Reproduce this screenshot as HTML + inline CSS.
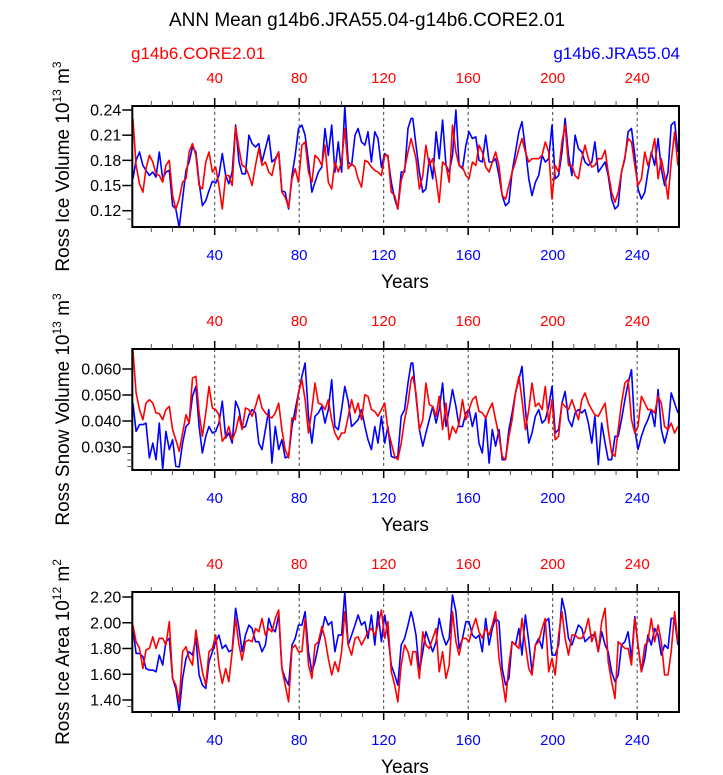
<!DOCTYPE html>
<html><head><meta charset="utf-8"><style>
body{margin:0;background:#fff;}
svg{display:block;font-family:"Liberation Sans",sans-serif;}
</style></head><body>
<svg id="chart" width="723" height="775">
<text x="367" y="26" font-size="19" text-anchor="middle">ANN Mean g14b6.JRA55.04-g14b6.CORE2.01</text>
<text x="131" y="59" font-size="17" fill="#f00">g14b6.CORE2.01</text>
<text x="680" y="59" font-size="17" fill="#00f" text-anchor="end">g14b6.JRA55.04</text>
</svg>
<script>
const years=[1.3,2.8,4.4,6.0,7.5,9.1,10.7,12.2,13.8,15.4,16.9,18.5,20.1,21.6,23.2,24.8,26.4,27.9,29.5,31.1,32.6,34.2,35.8,37.3,38.9,40.5,42.0,43.6,45.2,46.7,48.3,49.9,51.5,53.0,54.6,56.2,57.7,59.3,60.9,62.4,64.0,65.6,67.1,68.7,70.3,71.8,73.4,75.0,76.6,78.1,79.7,81.3,82.8,84.4,86.0,87.5,89.1,90.7,92.2,93.8,95.4,96.9,98.5,100.1,101.6,103.2,104.8,106.4,107.9,109.5,111.1,112.6,114.2,115.8,117.3,118.9,120.5,122.0,123.6,125.2,126.7,128.3,129.9,131.5,133.0,
133.8,135.3,136.9,138.5,140.0,141.6,143.2,144.8,146.3,147.9,149.5,151.0,152.6,154.2,155.7,157.3,158.9,160.4,162.0,163.6,165.1,166.7,168.3,169.9,171.4,173.0,174.6,176.1,177.7,179.3,180.8,182.4,184.0,185.5,187.1,188.7,190.2,191.8,193.4,195.0,196.5,198.1,199.7,201.2,202.8,204.4,205.9,207.5,209.1,210.6,212.2,213.8,215.3,216.9,218.5,220.0,221.6,223.2,224.8,226.3,227.9,229.5,231.0,232.6,234.2,235.7,237.3,238.9,240.4,242.0,243.6,245.1,246.7,248.3,249.9,251.4,253.0,254.6,256.1,257.7,259.3];
const iceVolJRA=[.158,.180,.190,.174,.168,.162,.166,.160,.190,.158,.166,.168,.126,.122,.100,.134,.168,.178,.196,.190,.154,.126,.132,.144,.155,.153,.162,.188,.162,.152,.166,.222,.178,.164,.164,.210,.200,.196,.200,.178,.194,.210,.178,.182,.190,.144,.142,.122,.162,.186,.218,.222,.210,.178,.142,.154,.166,.172,.218,.186,.222,.166,.202,.166,.244,.178,.174,.210,.218,.202,.198,.214,.178,.214,.206,.172,.188,.184,.154,.134,.122,.166,.166,.218,.230,
.230,.198,.166,.142,.146,.182,.158,.214,.182,.228,.174,.166,.186,.240,.174,.170,.198,.214,.206,.208,.180,.178,.210,.178,.178,.182,.162,.138,.126,.130,.166,.190,.214,.226,.194,.158,.138,.154,.162,.186,.178,.182,.222,.158,.162,.190,.230,.186,.162,.210,.194,.190,.178,.174,.178,.202,.166,.172,.178,.162,.134,.122,.126,.166,.182,.214,.218,.186,.146,.134,.142,.166,.190,.174,.206,.170,.150,.166,.222,.226,.190];
const iceVolCORE=[.230,.174,.152,.142,.170,.186,.178,.164,.162,.154,.174,.180,.138,.122,.134,.154,.158,.190,.200,.186,.150,.146,.178,.190,.166,.172,.150,.122,.162,.162,.150,.220,.194,.174,.172,.162,.150,.174,.194,.174,.178,.166,.162,.180,.190,.142,.136,.124,.158,.170,.154,.198,.202,.166,.154,.186,.182,.174,.198,.154,.146,.178,.166,.178,.218,.170,.176,.172,.158,.148,.180,.178,.172,.168,.166,.162,.186,.186,.142,.138,.122,.156,.170,.190,.206,
.198,.182,.146,.162,.198,.174,.182,.158,.130,.178,.174,.154,.222,.190,.174,.172,.162,.158,.178,.174,.198,.190,.172,.166,.178,.190,.174,.138,.134,.150,.166,.178,.194,.206,.190,.178,.182,.182,.182,.186,.202,.190,.134,.174,.166,.202,.222,.174,.174,.162,.158,.182,.198,.182,.172,.174,.182,.182,.192,.166,.142,.130,.142,.166,.184,.206,.202,.174,.150,.158,.190,.174,.186,.206,.158,.182,.162,.134,.178,.214,.174];
const snowJRA=[.0469,.0360,.0386,.0386,.0392,.0258,.0315,.0251,.0392,.0213,.0360,.0290,.0328,.0226,.0223,.0315,.0379,.0392,.0495,.0533,.0379,.0277,.0341,.0379,.0354,.0360,.0392,.0476,.0335,.0354,.0315,.0476,.0444,.0373,.0379,.0424,.0444,.0431,.0315,.0290,.0367,.0444,.0238,.0379,.0290,.0328,.0258,.0264,.0379,.0444,.0508,.0572,.0623,.0418,.0315,.0418,.0431,.0456,.0392,.0444,.0559,.0379,.0367,.0444,.0533,.0476,.0379,.0392,.0405,.0444,.0379,.0328,.0290,.0379,.0315,.0418,.0315,.0379,.0264,.0258,.0264,.0418,.0444,.0546,.0623,
.0623,.0495,.0367,.0303,.0354,.0405,.0456,.0392,.0444,.0546,.0379,.0444,.0521,.0456,.0379,.0379,.0431,.0444,.0379,.0431,.0315,.0277,.0418,.0238,.0367,.0303,.0367,.0251,.0251,.0367,.0431,.0508,.0559,.0610,.0444,.0315,.0354,.0418,.0444,.0392,.0405,.0456,.0533,.0354,.0367,.0469,.0514,.0405,.0379,.0431,.0444,.0431,.0444,.0392,.0315,.0418,.0232,.0392,.0315,.0251,.0251,.0341,.0341,.0405,.0482,.0546,.0597,.0367,.0290,.0341,.0379,.0405,.0444,.0379,.0521,.0367,.0315,.0367,.0508,.0469,.0431];
const snowCORE=[.0674,.0508,.0444,.0405,.0469,.0482,.0469,.0431,.0428,.0405,.0444,.0456,.0367,.0328,.0283,.0354,.0424,.0392,.0565,.0572,.0431,.0341,.0431,.0533,.0450,.0444,.0424,.0322,.0341,.0379,.0328,.0360,.0418,.0367,.0450,.0444,.0418,.0456,.0501,.0450,.0431,.0418,.0412,.0431,.0469,.0367,.0290,.0258,.0412,.0405,.0508,.0559,.0482,.0354,.0444,.0546,.0469,.0463,.0444,.0482,.0405,.0354,.0328,.0354,.0354,.0418,.0482,.0431,.0469,.0405,.0501,.0495,.0444,.0437,.0418,.0444,.0469,.0367,.0315,.0264,.0251,.0315,.0405,.0469,.0559,
.0572,.0508,.0367,.0405,.0546,.0463,.0456,.0418,.0495,.0367,.0469,.0328,.0379,.0354,.0392,.0482,.0405,.0444,.0482,.0495,.0437,.0431,.0412,.0444,.0469,.0405,.0341,.0264,.0251,.0341,.0405,.0508,.0572,.0482,.0367,.0444,.0546,.0456,.0469,.0444,.0533,.0392,.0482,.0328,.0341,.0469,.0456,.0444,.0482,.0444,.0405,.0482,.0508,.0469,.0444,.0424,.0418,.0444,.0469,.0367,.0277,.0264,.0367,.0469,.0546,.0559,.0405,.0354,.0379,.0495,.0469,.0444,.0444,.0431,.0495,.0469,.0379,.0367,.0392,.0354,.0379];
const areaJRA=[1.956,1.762,1.762,1.736,1.645,1.632,1.632,1.619,1.749,1.671,1.853,1.879,1.568,1.490,1.309,1.568,1.723,1.775,1.749,1.879,1.594,1.516,1.490,1.697,1.775,1.853,1.904,1.801,1.827,1.775,1.788,2.112,1.956,1.775,1.904,1.982,1.956,1.853,1.853,1.775,1.827,2.034,1.956,1.930,2.060,1.645,1.568,1.516,1.827,1.879,1.982,1.982,2.086,1.775,1.619,1.697,1.827,1.930,2.047,1.982,2.008,1.775,1.904,1.904,2.241,1.827,1.904,1.982,2.060,1.982,2.008,1.879,2.060,1.827,2.086,1.853,2.060,1.904,1.671,1.594,1.516,1.827,1.879,1.982,2.086,
2.034,1.904,1.619,1.775,1.930,1.853,1.775,1.853,2.034,1.904,1.827,1.879,2.215,2.086,1.801,1.879,2.008,2.008,1.904,1.879,1.904,1.775,2.034,1.827,1.956,2.034,2.008,1.645,1.516,1.568,1.853,1.827,1.956,1.749,2.060,1.853,1.619,1.827,1.879,1.801,2.008,2.034,1.749,1.749,1.827,2.189,2.086,1.879,1.827,1.904,1.982,1.956,1.853,1.879,1.904,1.904,1.775,1.930,1.827,1.775,1.619,1.542,1.594,1.827,1.853,1.930,1.723,2.047,1.827,1.619,1.723,1.904,1.827,1.956,1.904,1.749,1.827,1.801,2.034,2.034,1.827];
const areaCORE=[1.982,1.853,1.801,1.645,1.788,1.801,1.891,1.801,1.879,1.879,1.827,2.008,1.568,1.516,1.386,1.775,1.814,1.723,1.671,1.943,1.775,1.619,1.516,1.775,1.801,1.904,1.671,1.529,1.645,1.542,1.775,2.034,1.827,1.710,1.853,1.866,1.853,1.956,1.930,2.034,1.904,1.956,1.930,2.034,2.099,1.645,1.516,1.386,1.801,1.827,1.775,1.775,2.034,1.671,1.568,1.827,1.853,1.969,1.879,1.723,1.594,1.697,1.619,1.775,2.086,1.827,1.749,1.879,1.891,1.827,1.879,1.930,1.956,1.904,1.982,2.099,1.879,2.008,1.619,1.516,1.386,1.671,1.827,1.775,1.671,
1.775,1.775,1.568,1.930,1.827,1.801,1.879,1.956,1.619,1.775,1.568,1.671,2.086,1.853,1.749,1.879,1.879,1.853,1.956,2.034,1.930,1.879,1.956,1.904,1.982,2.086,1.723,1.568,1.386,1.671,1.853,1.827,1.801,2.034,1.827,1.645,1.594,1.827,1.853,1.956,2.034,1.619,1.723,1.594,1.904,2.086,1.879,1.749,1.904,1.904,1.879,1.879,1.930,2.034,1.853,1.930,1.775,2.008,2.112,1.697,1.542,1.412,1.853,1.827,1.801,1.801,1.671,2.034,1.827,1.619,1.827,1.853,2.034,1.853,1.982,1.853,1.594,1.594,1.775,2.086,1.853];
const xTicks=[40,80,120,160,200,240];
const iceVolTicks=[0.12,0.15,0.18,0.21,0.24];
const snowTicks=[0.030,0.040,0.050,0.060];
const areaTicks=[1.40,1.60,1.80,2.00,2.20];

const NS="http://www.w3.org/2000/svg";
const svg=document.getElementById('chart');
function mk(tag,attrs,parent){const e=document.createElementNS(NS,tag);for(const k in attrs)e.setAttribute(k,attrs[k]);(parent||svg).appendChild(e);return e;}
const X0=132.3,X1=679,YR0=1,YR1=259.8;
function xs(y){return X0+(y-YR0)*(X1-X0)/(YR1-YR0);}

function panel(cfg){
  const g=mk('g',{});
  
  
  const ys=v=>cfg.py0+(v-cfg.v0)*(cfg.py1-cfg.py0)/(cfg.v1-cfg.v0);
  const top=cfg.top,bot=cfg.bot;
  xTicks.forEach(t=>{const l=mk('line',{x1:xs(t),x2:xs(t),y1:top,y2:bot,stroke:'#444','stroke-width':1,'stroke-dasharray':'3,3'},g);
    });
  const clip=mk('clipPath',{id:'c'+cfg.name},g);mk('rect',{x:X0,y:top,width:X1-X0,height:bot-top},clip);
  [[cfg.blue,'#00f','jra-line'],[cfg.red,'#f00','core-line']].forEach(([arr,col,nm])=>{
    let d='';arr.forEach((v,i)=>{d+=(i?'L':'M')+xs(years[i]).toFixed(1)+','+ys(v).toFixed(1);});
    const p=mk('path',{d:d,fill:'none',stroke:col,'stroke-width':1.6,'stroke-linejoin':'round','clip-path':'url(#c'+cfg.name+')'},g);
    
  });
  const f=mk('rect',{x:X0,y:top,width:X1-X0,height:bot-top,fill:'none',stroke:'#000','stroke-width':2},g);
  
  for(let yr=10;yr<260;yr+=10){const maj=yr%40===0;const L=maj?8:5;
    mk('line',{x1:xs(yr),x2:xs(yr),y1:top,y2:top-L,stroke:maj?'#000':'#555','stroke-width':maj?1.5:1},g);
    mk('line',{x1:xs(yr),x2:xs(yr),y1:bot,y2:bot+L,stroke:maj?'#000':'#555','stroke-width':maj?1.5:1},g);}
  xTicks.forEach(t=>{
    const a=mk('text',{x:xs(t),y:top-23,'font-size':15,fill:'#f00','text-anchor':'middle'},g);a.textContent=t;
    
    const b=mk('text',{x:xs(t),y:bot+33,'font-size':15,fill:'#00f','text-anchor':'middle'},g);b.textContent=t;
    
  });
  const xt=mk('text',{x:405,y:bot+61,'font-size':19,'text-anchor':'middle'},g);xt.textContent='Years';
  
  for(let v=cfg.minStart;v<=cfg.v1+1e-9;v+=cfg.minStep){const y=ys(v);if(y<top||y>bot)continue;
    mk('line',{x1:X0,x2:X0-5,y1:y,y2:y,stroke:'#555','stroke-width':1},g);}
  cfg.ticks.forEach(t=>{const y=ys(t);
    mk('line',{x1:X0,x2:X0-10,y1:y,y2:y,stroke:'#000','stroke-width':1.5},g);
    const l=mk('text',{x:X0-11,y:y+5.5,'font-size':16,'text-anchor':'end'},g);l.textContent=t.toFixed(cfg.dec);
    });
  const cy=(top+bot)/2;
  const yt=mk('text',{x:69,y:cy,'font-size':19,'text-anchor':'middle',transform:'rotate(-90 69 '+cy+')'},g);
  yt.innerHTML=cfg.label+' 10<tspan dy="-8" font-size="12">'+cfg.e+'</tspan><tspan dy="8"> m</tspan><tspan dy="-8" font-size="12">'+cfg.u+'</tspan>';
  
}
panel({name:'ice-volume-panel',top:106,bot:227,v0:0.24,py0:110,v1:0.12,py1:210.7,ticks:iceVolTicks,dec:2,minStart:0.11,minStep:0.01,blue:iceVolJRA,red:iceVolCORE,label:'Ross Ice Volume',e:'13',u:'3'});
panel({name:'snow-volume-panel',top:349,bot:470,v0:0.060,py0:369,v1:0.030,py1:447,ticks:snowTicks,dec:3,minStart:0.0225,minStep:0.0025,blue:snowJRA,red:snowCORE,label:'Ross Snow Volume',e:'13',u:'3'});
panel({name:'ice-area-panel',top:592,bot:712,v0:2.20,py0:597,v1:1.40,py1:700,ticks:areaTicks,dec:2,minStart:1.35,minStep:0.05,blue:areaJRA,red:areaCORE,label:'Ross Ice Area',e:'12',u:'2'});
</script>
</body></html>
